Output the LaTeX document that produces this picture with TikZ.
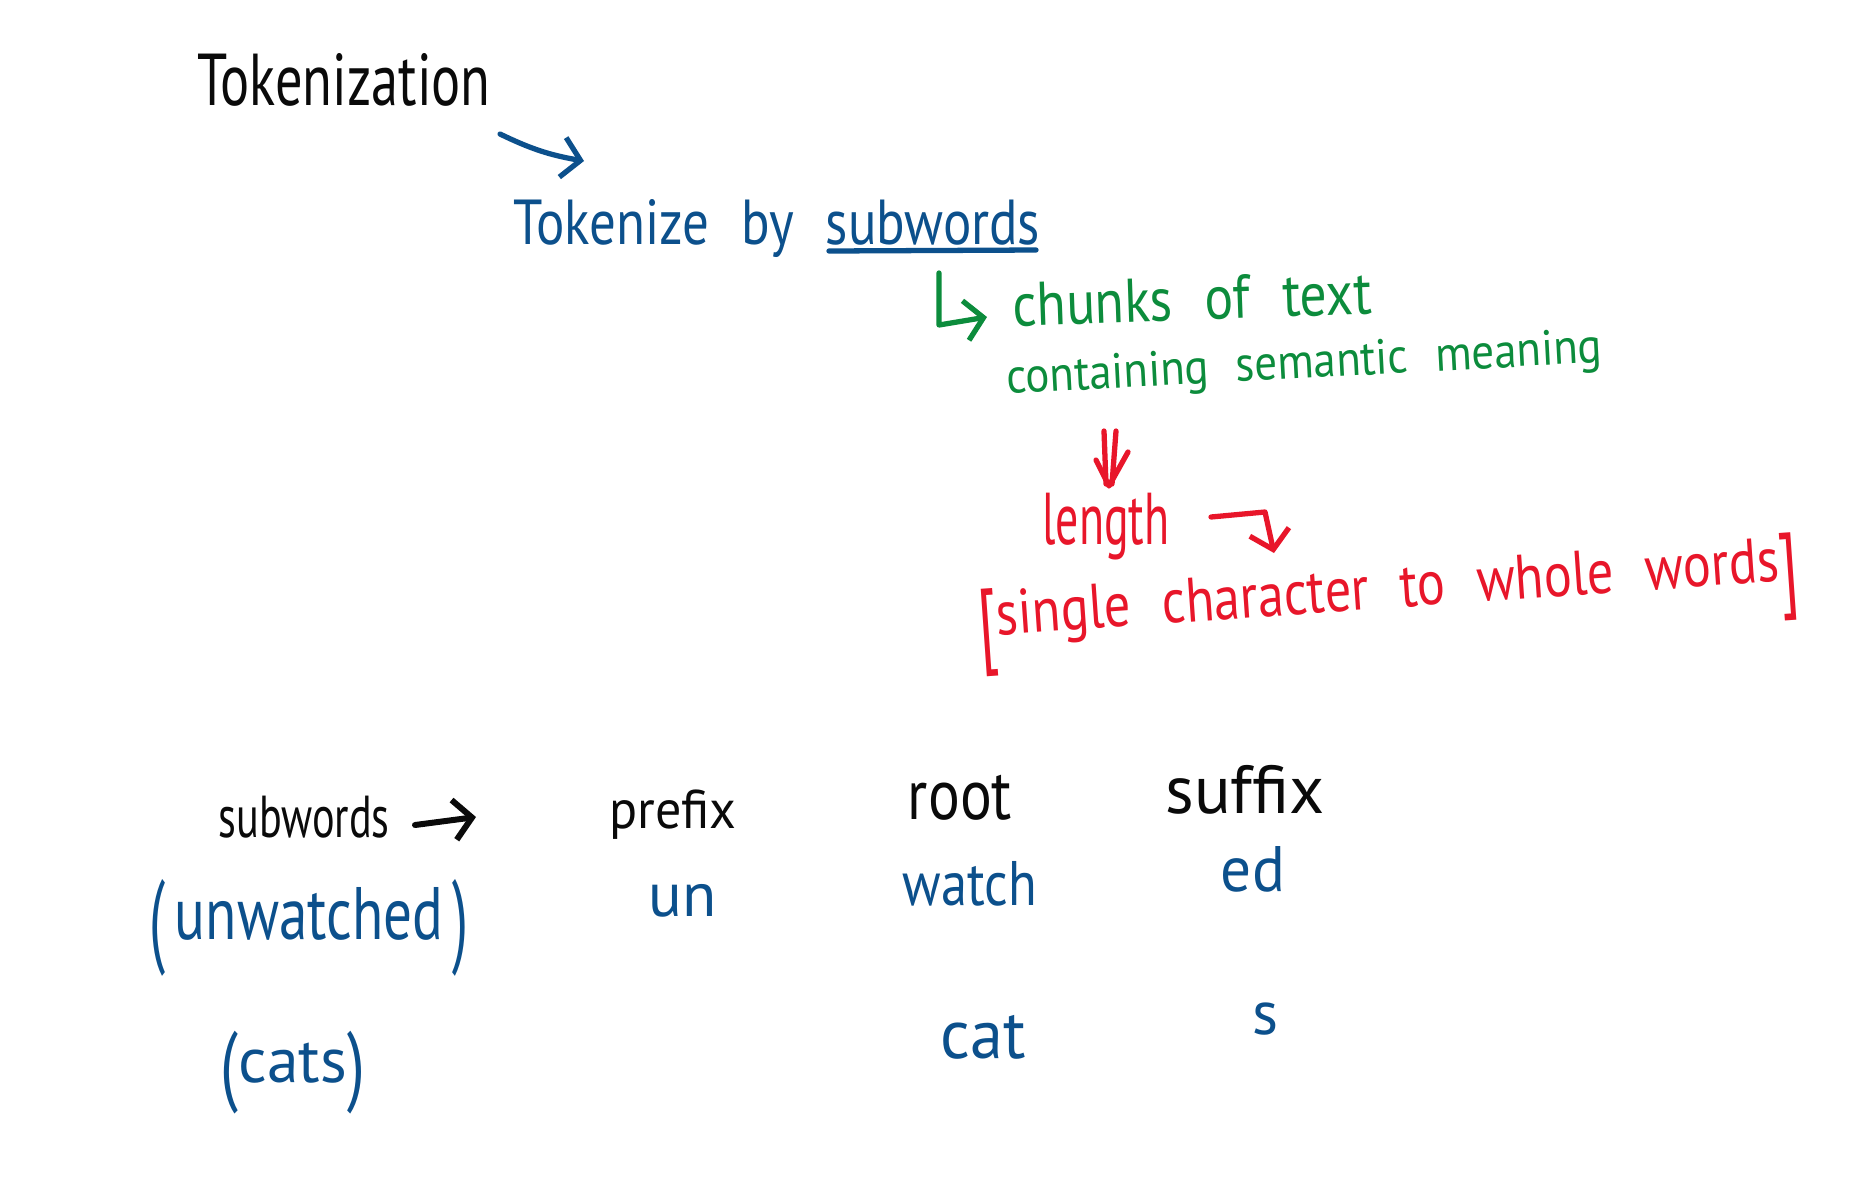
\documentclass[tikz,border=0pt]{standalone}
\usepackage{fontspec}
\setmainfont{PT Sans}
\usetikzlibrary{arrows.meta}
\definecolor{inkblue}{RGB}{12,80,140}
\definecolor{inkgreen}{RGB}{12,140,60}
\definecolor{inkred}{RGB}{232,22,42}
\definecolor{inkblack}{RGB}{10,10,10}
\newcommand{\fws}[3]{\resizebox{#1}{!}{\scalebox{1}[#2]{#3}}}
\newcommand{\wg}{\hspace{0.6em}}
\newcommand{\tallp}[1]{\raisebox{-0.2em}{\scalebox{1}[1.4]{#1}}}
\newcommand{\tallb}[1]{\raisebox{-0.3em}{\scalebox{1.2}[1.5]{#1}}}
\begin{document}
\begin{tikzpicture}[x=0.01cm,y=-0.01cm,
  lbl/.style={inner sep=0pt,anchor=base},
  pen/.style={line width=1.5pt,line cap=round,line join=round},
  tip/.style={-{Straight Barb[length=1.8mm,width=4mm]}}]
\fill[white] (0,0) rectangle (1875,1184);
\useasboundingbox (0,0) rectangle (1875,1184);

% titles
\node[lbl,text=inkblack] (tokz) at (344,105) {\fws{2.93cm}{1.35}{Tokenization}};
\node[lbl,text=inkblue] (tokby) at (777,244) {\fws{5.26cm}{1.2}{Tokenize\wg by\wg subwords}};
\coordinate (ul1) at (829,251);
\coordinate (ul2) at (1036,250);
\draw[pen,inkblue] (ul1) -- (ul2);

% blue arrow
\coordinate (a1s) at (500,134);
\coordinate (a1e) at (584,161);
\draw[pen,inkblue,tip] (a1s) to[bend right=8] (a1e);

% green
\coordinate (g1) at (939,273);
\coordinate (g2) at (939,325);
\coordinate (g3) at (987,317);
\draw[pen,inkgreen,tip] (g1) -- (g2) -- (g3);
\node[lbl,text=inkgreen,rotate=2] (chunks) at (1193,320) {\fws{3.59cm}{1.15}{chunks\wg of\wg text}};
\node[lbl,text=inkgreen,rotate=3] (contain) at (1305,378) {\fws{5.96cm}{1.1}{containing\wg semantic\wg meaning}};

% red
\coordinate (d1a) at (1104,431);
\coordinate (d1b) at (1106,484);
\coordinate (d2a) at (1116,431);
\coordinate (d2b) at (1112,484);
\coordinate (dh1) at (1096,460);
\coordinate (dh2) at (1109,486);
\coordinate (dh3) at (1128,452);
\draw[pen,inkred] (d1a) -- (d1b);
\draw[pen,inkred] (d2a) -- (d2b);
\draw[pen,inkred] (dh1) -- (dh2) -- (dh3);
\node[lbl,text=inkred] (length) at (1106,544) {\fws{1.27cm}{1.6}{length}};
\coordinate (b1) at (1211,517);
\coordinate (b2) at (1265,512);
\coordinate (b3) at (1274,553);
\draw[pen,inkred,tip] (b1) -- (b2) -- (b3);
\node[lbl,text=inkred,rotate=4] (range) at (1389,608) {\fws{8.22cm}{1.2}{\tallb{[}single\wg character\wg to\wg whole\wg words\tallb{]}}};

% bottom table
\node[lbl,text=inkblack] (subw) at (304,837) {\fws{1.71cm}{1.4}{subwords}};
\coordinate (s1) at (415,825);
\coordinate (s2) at (476,817);
\draw[pen,line width=1.7pt,inkblack,tip] (s1) -- (s2);
\node[lbl,text=inkblack] (prefix) at (673,828) {\fws{1.27cm}{1.05}{prefix}};
\node[lbl,text=inkblack] (root) at (960,819) {\fws{1.04cm}{1.2}{root}};
\node[lbl,text=inkblack] (suffix) at (1245,813) {\fws{1.59cm}{1.0}{suffix}};

\node[lbl,text=inkblue] (unw) at (309,939) {\fws{3.19cm}{1.3}{\tallp{(}\,unwatched\,\tallp{)}}};
\node[lbl,text=inkblue] (un) at (683,916) {\fws{0.68cm}{1.0}{un}};
\node[lbl,text=inkblue] (watch) at (970,905) {\fws{1.34cm}{1.2}{watch}};
\node[lbl,text=inkblue] (ed) at (1253,891) {\fws{0.64cm}{1.05}{ed}};

\node[lbl,text=inkblue] (cats) at (293,1082) {\fws{1.44cm}{1.0}{\tallp{(}cats\tallp{)}}};
\node[lbl,text=inkblue] (cat) at (983,1058) {\fws{0.85cm}{1.05}{cat}};
\node[lbl,text=inkblue] (s) at (1265,1034) {\fws{0.26cm}{1.0}{s}};
\end{tikzpicture}
\end{document}
